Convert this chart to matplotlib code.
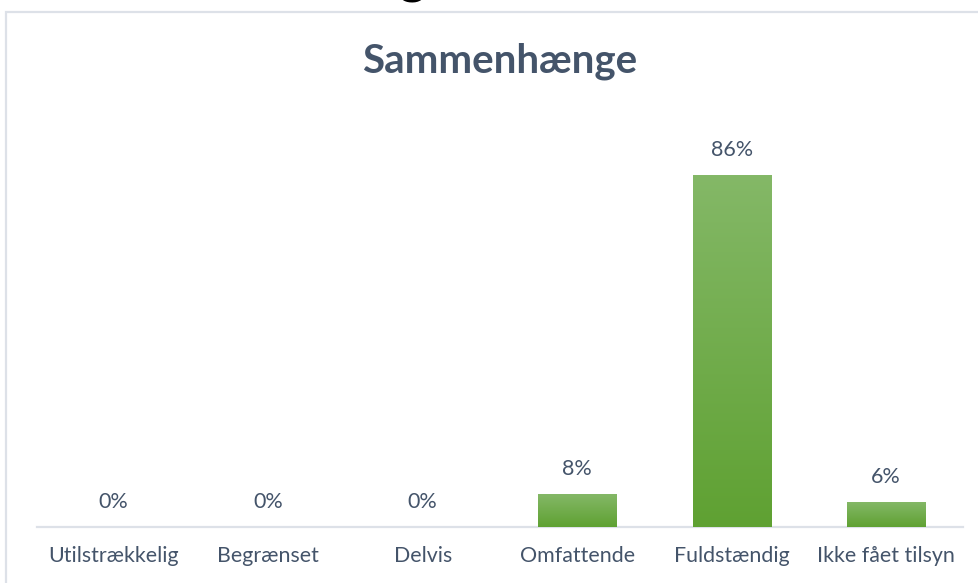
import numpy as np
import matplotlib
matplotlib.use("Agg")
import matplotlib.pyplot as plt
from matplotlib.patches import Rectangle

categories = ["Utilstrækkelig", "Begrænset", "Delvis", "Omfattende", "Fuldstændig", "Ikke fået tilsyn"]
shares = [0.00, 0.00, 0.00, 0.08, 0.86, 0.06]
value_labels = ["0%", "0%", "0%", "8%", "86%", "6%"]
title = "Sammenhænge"

W, H = 979, 583
TEXT = "#44546A"
FONT = "Lato"

fig = plt.figure(figsize=(W / 100, H / 100), dpi=100)

# chart frame (continues past the right and bottom edge)
fig.patches.append(Rectangle((6.5 / W, -0.1), 1.2, 1 - 12.5 / H + 0.1,
                             transform=fig.transFigure, fill=False,
                             edgecolor="#DDE1E8", linewidth=1.6))
# descender of a heading that sits above the chart
fig.text(413 / W, 1 + 8 / H, "g", fontsize=38, fontfamily=FONT, fontweight="bold",
         color="black", ha="center", va="baseline")

# plot area: x 36.5..963.5 px, baseline at y=527, 100% at y=118
ax = fig.add_axes([36.5 / W, (H - 527) / H, 927 / W, 409 / H])
x = np.arange(len(categories))
bars = ax.bar(x, shares, width=0.505, color="#6EAE42", linewidth=0, zorder=2)

# vertical gradient on each bar
grad = np.linspace(0, 1, 256).reshape(-1, 1)
cmap = matplotlib.colors.LinearSegmentedColormap.from_list("g", ["#5FA132", "#84B867"])
for b in bars:
    h = b.get_height()
    if h <= 0:
        continue
    im = ax.imshow(grad, cmap=cmap, aspect="auto", origin="lower",
                   extent=(b.get_x(), b.get_x() + b.get_width(), 0, h), zorder=3)
    im.set_clip_path(b)

for xi, v, lab in zip(x, shares, value_labels):
    ax.annotate(lab, (xi, v), xytext=(0, 18), textcoords="offset points",
                ha="center", va="center", fontsize=15.5, fontfamily=FONT, color=TEXT)

ax.set_xlim(-0.5, len(categories) - 0.5)
ax.set_ylim(0, 1)
ax.set_xticks(x)
ax.set_xticklabels(categories, fontsize=15.4, fontfamily=FONT, color=TEXT)
ax.tick_params(axis="x", length=0, pad=14)
ax.set_yticks([])
for s in ["top", "right", "left"]:
    ax.spines[s].set_visible(False)
ax.spines["bottom"].set_color("#DDE1E8")
ax.spines["bottom"].set_linewidth(1.6)

fig.text(500 / W, 1 - 61 / H, title, fontsize=29, fontweight="bold",
         fontfamily=FONT, color=TEXT, ha="center", va="center")

fig.savefig("out.png", dpi=100)
